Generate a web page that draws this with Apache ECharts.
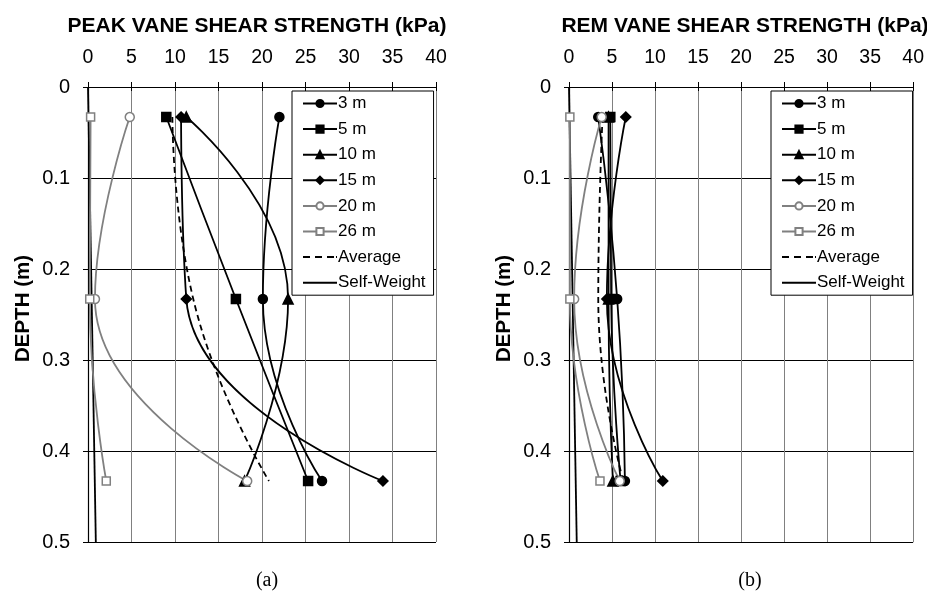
<!DOCTYPE html>
<html>
<head>
<meta charset="utf-8">
<script src="https://cdn.jsdelivr.net/npm/echarts@6/dist/echarts.min.js"></script>
<style>
html,body{margin:0;padding:0;background:#fff;}
#chart{width:927px;height:607px;}
</style>
</head>
<body>
<div id="chart"></div>
<script>
// ---- data ----
const depths = [0.033, 0.233, 0.433];
const seriesNames = ['3 m', '5 m', '10 m', '15 m', '20 m', '26 m', 'Average', 'Self-Weight'];

const peak3 = [22.0, 20.1, 26.9];
const peak5 = [9.0, 17.0, 25.3];
const peak10 = [11.3, 23.0, 18.0];
const peak15 = [10.7, 11.3, 33.9];
const peak20 = [4.8, 0.8, 18.3];
const peak26 = [0.3, 0.2, 2.1];
const peakAvg = [9.7, 12.1, 20.8];

const rem3 = [3.4, 5.6, 6.5];
const rem5 = [4.8, 4.9, 6.0];
const rem10 = [4.6, 4.6, 5.1];
const rem15 = [6.6, 4.4, 10.9];
const rem20 = [3.8, 0.6, 5.9];
const rem26 = [0.1, 0.1, 3.6];
const remAvg = [3.9, 3.4, 6.3];

const swDepths = [0, 0.5];
const swValues = [0, 0.9];

const xTicks = [0, 5, 10, 15, 20, 25, 30, 35, 40];
const yTicks = [0, 0.1, 0.2, 0.3, 0.4, 0.5];

// ---- build ----
const BLACK = '#000';
const GREY = '#808080';
const FONT = 'Liberation Sans, Arial, sans-serif';

function pairs(vals, ds) { return vals.map((v, i) => [v, ds[i]]); }

const styles = [
  { symbol: 'circle', size: 9, color: BLACK, fill: BLACK },
  { symbol: 'rect', size: 9, color: BLACK, fill: BLACK },
  { symbol: 'triangle', size: 10, color: BLACK, fill: BLACK },
  { symbol: 'diamond', size: 10, color: BLACK, fill: BLACK },
  { symbol: 'circle', size: 9, color: GREY, fill: '#fff' },
  { symbol: 'rect', size: 8, color: GREY, fill: '#fff' }
];

function makeSeries(gridIdx, lists, avg) {
  const out = [];
  lists.forEach((vals, i) => {
    const s = styles[i];
    out.push({
      name: seriesNames[i], type: 'line', xAxisIndex: gridIdx, yAxisIndex: gridIdx,
      data: pairs(vals, depths), smooth: 0.5,
      symbol: s.symbol, symbolSize: s.size, showSymbol: true,
      lineStyle: { color: s.color, width: 1.8 },
      itemStyle: { color: s.fill, borderColor: s.color, borderWidth: 1.5 },
      emphasis: { disabled: true }, animation: false, z: 3
    });
  });
  out.push({
    name: 'Average', type: 'line', xAxisIndex: gridIdx, yAxisIndex: gridIdx,
    data: pairs(avg, depths), smooth: 0.5, symbol: 'none',
    lineStyle: { color: BLACK, width: 1.8, type: [6, 4] },
    itemStyle: { color: BLACK },
    emphasis: { disabled: true }, animation: false, z: 2
  });
  out.push({
    name: 'Self-Weight', type: 'line', xAxisIndex: gridIdx, yAxisIndex: gridIdx,
    data: pairs(swValues, swDepths), symbol: 'none',
    lineStyle: { color: BLACK, width: 1.8 },
    itemStyle: { color: BLACK },
    emphasis: { disabled: true }, animation: false, z: 2
  });
  return out;
}

const grids = [
  { left: 88, top: 87, width: 348, height: 455 },
  { left: 569, top: 87, width: 346, height: 455 }
];

function xAxisMain(g) {
  return {
    type: 'value', gridIndex: g, position: 'top', min: xTicks[0], max: xTicks[xTicks.length - 1], interval: 5,
    axisLine: { show: true, onZero: false, lineStyle: { color: BLACK, width: 1.2 } },
    axisTick: { show: true, inside: false, length: 5, lineStyle: { color: BLACK } },
    axisLabel: { show: true, margin: 19, fontFamily: FONT, fontSize: 19.5, color: BLACK },
    splitLine: { show: true, lineStyle: { color: GREY, width: 1 } }
  };
}
function xAxisInner(g) {
  return {
    type: 'value', gridIndex: g, position: 'top', min: xTicks[0], max: xTicks[xTicks.length - 1], interval: 5,
    axisLine: { show: false }, axisTick: { show: true, inside: true, length: 4, lineStyle: { color: BLACK } },
    axisLabel: { show: false }, splitLine: { show: false }
  };
}
function yAxisMain(g) {
  return {
    type: 'value', gridIndex: g, inverse: true, min: yTicks[0], max: yTicks[yTicks.length - 1], interval: 0.1,
    name: 'DEPTH (m)', nameLocation: 'middle', nameGap: 54,
    nameTextStyle: { fontFamily: FONT, fontSize: 20.5, fontWeight: 'bold', color: BLACK, padding: [0, 0, 0, 12] },
    axisLine: { show: true, onZero: false, lineStyle: { color: BLACK, width: 1.2 } },
    axisTick: { show: true, inside: false, length: 5, lineStyle: { color: BLACK } },
    axisLabel: { show: true, margin: 18, fontFamily: FONT, fontSize: 20, color: BLACK,
      formatter: v => (Math.round(v * 10) / 10).toString() },
    splitLine: { show: true, lineStyle: { color: BLACK, width: 1 } }
  };
}
function yAxisInner(g) {
  return {
    type: 'value', gridIndex: g, inverse: true, min: yTicks[0], max: yTicks[yTicks.length - 1], interval: 0.1,
    axisLine: { show: false }, axisTick: { show: true, inside: true, length: 4, lineStyle: { color: BLACK } },
    axisLabel: { show: false }, splitLine: { show: false }
  };
}

const DASH_ICON = 'path://M0,0h7v2h-7z M12,0h7v2h-7z M24,0h7v2h-7z M33,0h1v2h-1z';
const LINE_ICON = 'path://M0,0h34v2h-34z';

function legendAt(left, top) {
  return {
    orient: 'vertical', left: left, top: top,
    data: seriesNames.map(n => {
      if (n === 'Average') return { name: n, icon: DASH_ICON, itemStyle: { color: BLACK, borderWidth: 0 } };
      if (n === 'Self-Weight') return { name: n, icon: LINE_ICON, itemStyle: { color: BLACK, borderWidth: 0 } };
      return { name: n };
    }),
    itemWidth: 34, itemHeight: 9, itemGap: 8.6, symbolKeepAspect: true,
    padding: [4, 8, 4, 10],
    backgroundColor: '#fff', borderColor: BLACK, borderWidth: 1,
    textStyle: { fontFamily: FONT, fontSize: 17, color: BLACK, lineHeight: 17, padding: [0, 0, 0, -4] },
    selectedMode: false, inactiveColor: '#000'
  };
}

const option = {
  animation: false,
  backgroundColor: '#fff',
  grid: grids,
  xAxis: [xAxisMain(0), xAxisMain(1), xAxisInner(0), xAxisInner(1)],
  yAxis: [yAxisMain(0), yAxisMain(1), yAxisInner(0), yAxisInner(1)],
  legend: [legendAt(292, 91), legendAt(771, 91)],
  title: [
    { text: 'PEAK VANE SHEAR STRENGTH (kPa)', left: 252, top: 11, textAlign: 'center',
      textStyle: { fontFamily: FONT, fontSize: 21, fontWeight: 'bold', color: BLACK } },
    { text: 'REM VANE SHEAR STRENGTH (kPa)', left: 740, top: 11, textAlign: 'center',
      textStyle: { fontFamily: FONT, fontSize: 21, fontWeight: 'bold', color: BLACK } },
    { text: '(a)', left: 262, top: 566, textAlign: 'center',
      textStyle: { fontFamily: 'Liberation Serif, Times New Roman, serif', fontSize: 20, fontWeight: 'normal', color: BLACK } },
    { text: '(b)', left: 745, top: 566, textAlign: 'center',
      textStyle: { fontFamily: 'Liberation Serif, Times New Roman, serif', fontSize: 20, fontWeight: 'normal', color: BLACK } }
  ],
  series: [].concat(
    makeSeries(0, [peak3, peak5, peak10, peak15, peak20, peak26], peakAvg),
    makeSeries(1, [rem3, rem5, rem10, rem15, rem20, rem26], remAvg)
  )
};

const chart = echarts.init(document.getElementById('chart'), null, { renderer: 'canvas' });
chart.setOption(option);
</script>
</body>
</html>
